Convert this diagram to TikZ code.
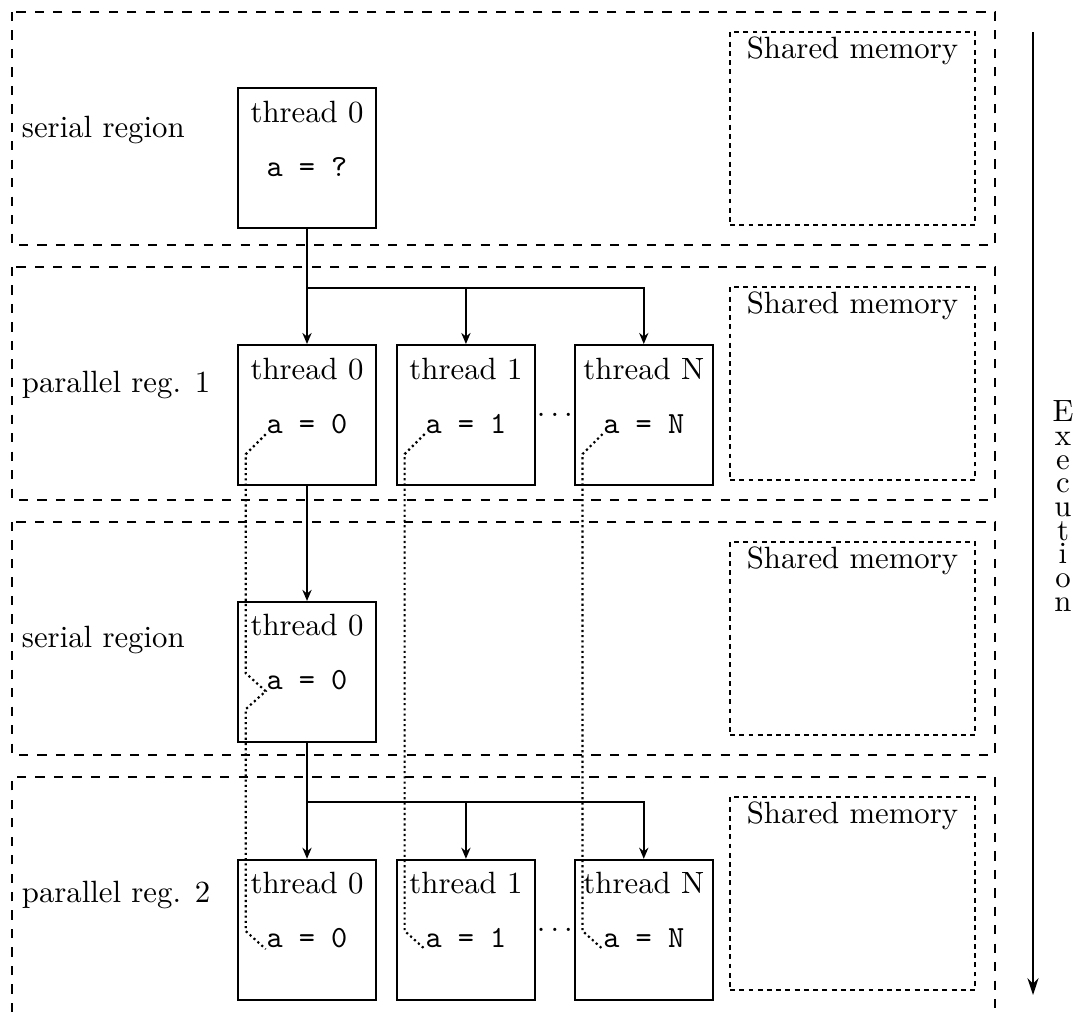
\documentclass[tikz,border=0pt]{standalone}
\usepackage{tikz}
\usetikzlibrary{arrows.meta,positioning,calc}
\tikzstyle{every node}=[inner sep=0pt]

\begin{document}
\begin{tikzpicture}[
    x=0.325pt, y=-0.325pt,
    semithick,
    regionframe/.style={
        draw,
        dashed},
    sharedbox/.style={
        draw,
        dash pattern=on 1.6pt off 1.4pt,
        minimum width=79.6pt,
        minimum height=62.7pt},
    sharedtitle/.style={anchor=base},
    reglabel/.style={anchor=base west},
    threadbox/.style={
        draw,
        minimum width=44.85pt,
        minimum height=45.5pt},
    threadtitle/.style={anchor=base},
    threadvar/.style={anchor=base, font=\ttfamily},
    flowarrow/.style={-{Stealth[length=3.6pt,width=3pt]}},
    trackline/.style={line width=0.7pt, densely dotted},
    timeline/.style={thick, -{Stealth[length=5.5pt,width=3.6pt]}},
  ]
  \useasboundingbox (0,0) rectangle (1077,1012);

  % Regions
  \foreach \top in {12,267,522}
    \draw[regionframe] (12,\top) rectangle (995,\top+233);
  \draw[regionframe] (12,1012) |- (995,777) -- (995,1012);

  % Labels and shared memory
  \foreach \top/\name [count=\i] in {12/serial region, 267/parallel reg. 1, 522/serial region, 777/parallel reg. 2}{
    \node[reglabel] (lbl\i) at (21,\top+125) {\name};
    \node[sharedbox] (sm\i) at (852.5,\top+116.5) {};
    \node[sharedtitle] (smt\i) at ([shift={(0,27)}]sm\i.north) {Shared memory};
  }

  % Serial region
  \node[threadbox] (t10) at (307,158) {};
  \node[threadtitle] (h10) at ([shift={(0,35)}]t10.north) {thread 0};
  \node[threadvar] (v10) at ([shift={(0,89)}]t10.north) {a = ?};

  % Parallel region 1
  \node[threadbox, below=37.4pt of t10] (t20) {};
  \node[threadtitle] (h20) at ([shift={(0,35)}]t20.north) {thread 0};
  \node[threadvar] (v20) at ([shift={(0,89)}]t20.north) {a = 0};
  \node[threadbox, right=6.2pt of t20] (t21) {};
  \node[threadtitle] (h21) at ([shift={(0,35)}]t21.north) {thread 1};
  \node[threadvar] (v21) at ([shift={(0,89)}]t21.north) {a = 1};
  \node[threadbox, right=12.35pt of t21] (t2N) {};
  \node[threadtitle] (h2N) at ([shift={(0,35)}]t2N.north) {thread N};
  \node[threadvar] (v2N) at ([shift={(0,89)}]t2N.north) {a = N};
  \node (dots2) at ($(t21.east)!0.5!(t2N.west)$) {$\ldots$};

  % Serial region
  \node[threadbox, below=37.4pt of t20] (t30) {};
  \node[threadtitle] (h30) at ([shift={(0,35)}]t30.north) {thread 0};
  \node[threadvar] (v30) at ([shift={(0,89)}]t30.north) {a = 0};

  % Parallel region 2
  \node[threadbox, below=37.7pt of t30] (t40) {};
  \node[threadtitle] (h40) at ([shift={(0,35)}]t40.north) {thread 0};
  \node[threadvar] (v40) at ([shift={(0,89)}]t40.north) {a = 0};
  \node[threadbox, right=6.2pt of t40] (t41) {};
  \node[threadtitle] (h41) at ([shift={(0,35)}]t41.north) {thread 1};
  \node[threadvar] (v41) at ([shift={(0,89)}]t41.north) {a = 1};
  \node[threadbox, right=12.35pt of t41] (t4N) {};
  \node[threadtitle] (h4N) at ([shift={(0,35)}]t4N.north) {thread N};
  \node[threadvar] (v4N) at ([shift={(0,89)}]t4N.north) {a = N};
  \node (dots4) at ($(t41.east)!0.5!(t4N.west)$) {$\ldots$};

  % Fork and join
  \coordinate (fork2) at ($(t10.south)+(0,59)$);
  \coordinate (fork4) at ($(t30.south)+(0,59)$);
  \draw[flowarrow] (t10) -- (t20);
  \draw[flowarrow] (fork2) -| (t21.north);
  \draw[flowarrow] (fork2) -| (t2N.north);
  \draw[flowarrow] (t20) -- (t30);
  \draw[flowarrow] (t30) -- (t40);
  \draw[flowarrow] (fork4) -| (t41.north);
  \draw[flowarrow] (fork4) -| (t4N.north);

  % Private copies of a
  \draw[trackline] (v20.south west) -- ++(-20,20) -- ([shift={(-20,-18)}]v30.south west)
    -- (v30.south west) -- ++(-20,18) -- ([shift={(-20,-18)}]v40.south west) -- (v40.south west);
  \draw[trackline] (v21.south west) -- ++(-20,20) -- ([shift={(-20,-18)}]v41.south west) -- (v41.south west);
  \draw[trackline] (v2N.south west) -- ++(-20,20) -- ([shift={(-20,-18)}]v4N.south west) -- (v4N.south west);

  % Execution
  \coordinate (exectop) at (1033,32);
  \coordinate (execbot) at (1033,995);
  \draw[timeline] (exectop) -- (execbot);
  \node[align=center] (exec) at (1063,506)
    {E\\[-4.3pt]x\\[-4.3pt]e\\[-4.3pt]c\\[-4.3pt]u\\[-4.3pt]t\\[-4.3pt]i\\[-4.3pt]o\\[-4.3pt]n};
\end{tikzpicture}
\end{document}
